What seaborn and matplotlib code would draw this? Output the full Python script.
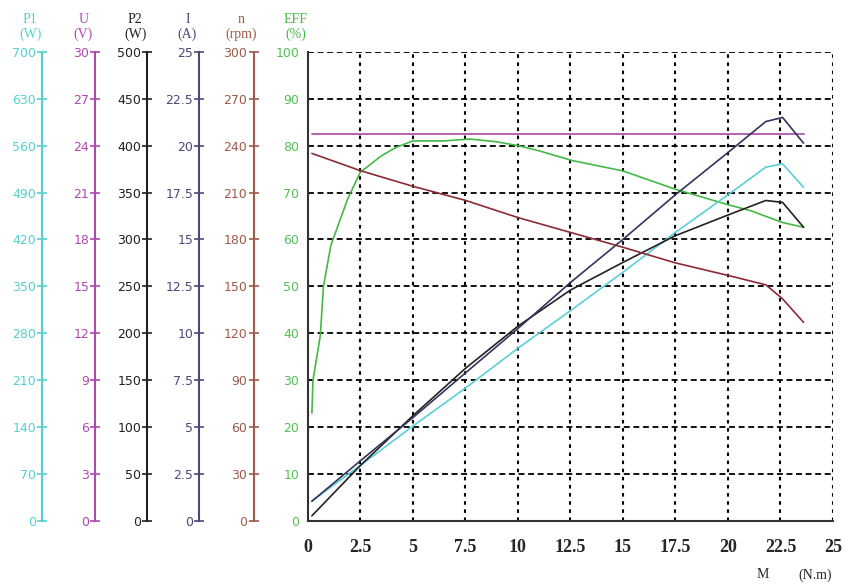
import matplotlib
matplotlib.use("Agg")
import matplotlib.pyplot as plt
import seaborn as sns

# --- datos (M en N.m) ---
torque = [0.2, 2.5, 5, 7.5, 10, 12.5, 15, 17.5, 20, 21.8, 22.6, 23.6]
p1_w = [30, 82.6, 141.4, 198, 257.6, 313.6, 371, 430.5, 486.5, 527.8, 532.7, 497.7]
u_v = [24.75, 24.75, 24.75, 24.75, 24.75, 24.75, 24.75, 24.75, 24.75, 24.75, 24.75, 24.75]
p2_w = [5.5, 59, 112, 162.5, 207.5, 246, 275.5, 304, 326, 341.5, 339.5, 313]
i_a = [1.05, 3.2, 5.5, 7.88, 10.25, 12.7, 15.0, 17.38, 19.63, 21.28, 21.5, 20.13]
n_rpm = [235, 224, 214, 205, 194, 184.5, 175, 165, 157, 151, 142, 127]

torque_eff = [0.2, 0.25, 0.6, 0.75, 1.1, 1.9, 2.5, 3.5, 4.2, 5.0, 6.5, 7.7,
              9.0, 10.0, 11.0, 12.6, 15.0, 17.5, 20.0, 21.1, 22.6, 23.6]
eff_pct = [23, 30, 39.5, 50, 58.7, 68.6, 74.3, 77.8, 79.6, 81.0, 81.0, 81.4,
           80.8, 80.0, 78.9, 76.8, 74.6, 70.7, 67.4, 66.1, 63.6, 62.6]

x_ticks = [0, 2.5, 5, 7.5, 10, 12.5, 15, 17.5, 20, 22.5, 25]

# (nombre, unidad, max, paso, posicion eje, color eje, color curva, datos)
ejes = [
    ("P1", "(W)", 700, 70, -0.505, "#55d0d0", "#5ccfd6", p1_w),
    ("U", "(V)", 30, 3, -0.404, "#b048b0", "#a848a8", u_v),
    ("P2", "(W)", 500, 50, -0.305, "#202020", "#222222", p2_w),
    ("I", "(A)", 25, 2.5, -0.206, "#4a4a7a", "#33335e", i_a),
    ("n", "(rpm)", 300, 30, -0.103, "#a05a4a", "#8c2a36", n_rpm),
]

sns.set_style("white")
plt.rcParams["font.family"] = ["DejaVu Sans"]

fig = plt.figure(figsize=(8.5, 5.88), dpi=100)
ax = fig.add_axes([0.362, 0.114, 0.618, 0.798])

# --- eje principal: EFF ---
ax.set_xlim(0, 25)
ax.set_ylim(0, 100)
ax.set_xticks(x_ticks)
ax.set_xticklabels([f"{v:g}" for v in x_ticks], family="Liberation Serif",
                   fontweight="bold", fontsize=13)
ax.set_yticks(range(0, 101, 10))
ax.tick_params(axis="y", length=0, pad=6, labelsize=9, labelcolor="#55c055")
ax.tick_params(axis="x", length=0, pad=13)
# rejilla: horizontales con trazos largos, verticales con trazos cortos y gruesos
ax.grid(True, axis="y", color="black", linestyle=(0, (3.3, 2)), linewidth=1.3)
ax.grid(True, axis="x", color="black", linestyle=(0, (1.7, 2.2)), linewidth=1.5)
for s in ["top", "right"]:
    ax.spines[s].set_visible(False)
ax.spines["left"].set_color("#333333")
ax.spines["bottom"].set_color("#333333")
ax.spines["left"].set_linewidth(1.5)
ax.spines["bottom"].set_linewidth(1.5)

sns.lineplot(x=torque_eff, y=eff_pct, ax=ax, color="#45b845", linewidth=1.2)
ax.text(-0.023, 1.022, "EFF\n(%)", transform=ax.transAxes, ha="center", va="bottom",
        color="#45b845", fontsize=10, family="Liberation Serif", linespacing=1.15)

# --- ejes secundarios a la izquierda ---
for nombre, unidad, ymax, paso, pos, col_eje, col_linea, datos in ejes:
    tw = ax.twinx()
    tw.set_ylim(0, ymax)
    ticks = [paso * k for k in range(11)]
    tw.set_yticks(ticks)
    tw.set_yticklabels([f"{t:g}" for t in ticks])
    tw.yaxis.set_ticks_position("left")
    tw.spines["left"].set_position(("axes", pos))
    tw.spines["left"].set_visible(True)
    tw.spines["left"].set_color(col_eje)
    tw.spines["left"].set_linewidth(1.5)
    for s in ["top", "right", "bottom"]:
        tw.spines[s].set_visible(False)
    tw.tick_params(axis="y", direction="inout", length=7, width=1.2, color=col_eje,
                   labelcolor=col_eje, labelsize=9, pad=1)
    sns.lineplot(x=torque, y=datos, ax=tw, color=col_linea, linewidth=1.2)
    tw.set_xlim(0, 25)
    tw.text(pos - 0.023, 1.022, f"{nombre}\n{unidad}", transform=ax.transAxes,
            ha="center", va="bottom", color=col_eje, fontsize=10,
            family="Liberation Serif", linespacing=1.15)

ax.text(0.867, -0.115, "M", transform=ax.transAxes, ha="center", va="center",
        fontsize=10, family="Liberation Serif")
ax.text(0.966, -0.115, "(N.m)", transform=ax.transAxes, ha="center", va="center",
        fontsize=10, family="Liberation Serif")

fig.savefig("out.png", dpi=100)
